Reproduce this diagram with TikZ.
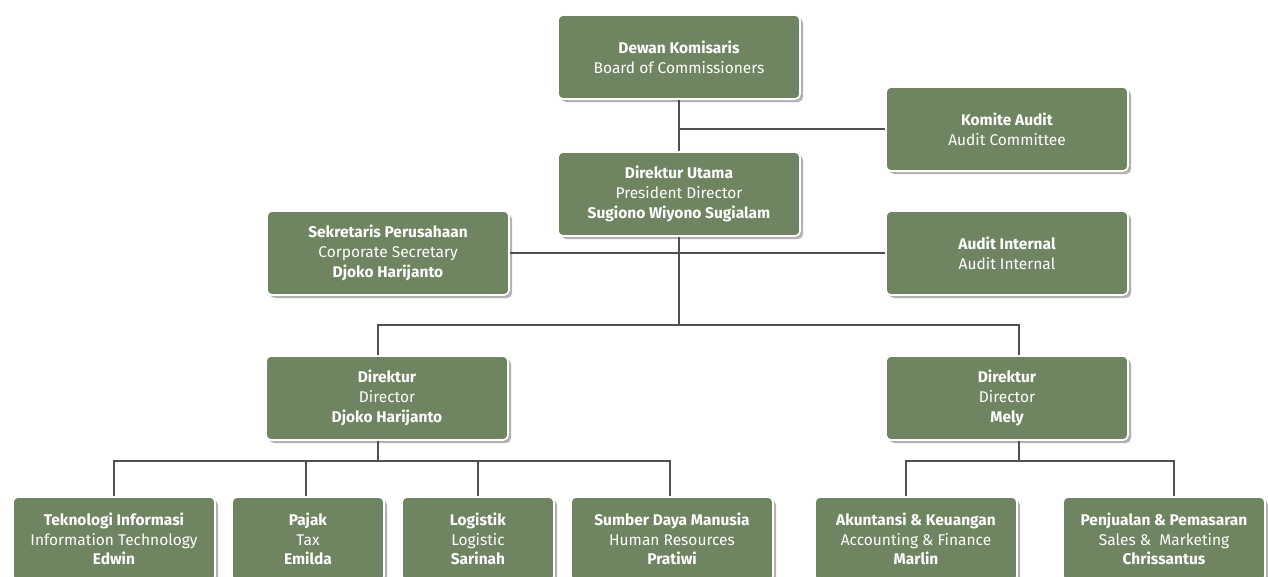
\documentclass[tikz,border=0pt]{standalone}
\usepackage{fontspec}
\setmainfont{Fira Sans}
\usetikzlibrary{shadows}
\definecolor{boxgreen}{HTML}{6F8460}
\definecolor{linegrey}{HTML}{4F4F4F}
\def\unit#1#2#3{\textbf{#1}\\#2\\\textbf{#3}}

\begin{document}
\begin{tikzpicture}[x=1pt, y=-1pt,
		orgbox/.style={draw=white, line width=1.6pt, fill=boxgreen, rounded corners=5pt,
			text=white, align=center, inner sep=2pt, minimum height=84pt,
			font=\fontsize{15.5}{19.8}\selectfont,
			drop shadow={shadow xshift=3pt, shadow yshift=-3pt, opacity=0.3, fill=black}},
		wide/.style={orgbox, minimum width=242pt},
		mid/.style={orgbox, minimum width=202pt},
		narrow/.style={orgbox, minimum width=152pt},
		link/.style={draw=linegrey, line width=2.6pt}]
			%%%%% FRAME %%%%%
			\useasboundingbox (0, 0) rectangle (1268, 576);
			
			%%%%% BUS LEVELS %%%%%
			\coordinate (busTop) at (0, 325);
			\coordinate (busLow) at (0, 461);
			
			%%%%% BOXES %%%%%
			\node[wide] (dk) at (679, 57) {\textbf{Dewan Komisaris}\\Board of Commissioners};
			\node[wide] (ka) at (1007, 129) {\textbf{Komite Audit}\\Audit Committee};
			\node[wide] (du) at (679, 194) {\unit{Direktur Utama}{President Director}{Sugiono Wiyono Sugialam}};
			\node[wide] (sp) at (388, 253) {\unit{Sekretaris Perusahaan}{Corporate Secretary}{Djoko Harijanto}};
			\node[wide] (ai) at (1007, 253) {\textbf{Audit Internal}\\Audit Internal};
			\node[wide] (dl) at (387, 398) {\unit{Direktur}{Director}{Djoko Harijanto}};
			\node[wide] (dr) at (1007, 398) {\unit{Direktur}{Director}{Mely}};
			
			\node[mid] (ti) at (114, 539) {\unit{Teknologi Informasi}{Information Technology}{Edwin}};
			\node[narrow] (pj) at (308, 539) {\unit{Pajak}{Tax}{Emilda}};
			\node[narrow] (lg) at (478, 539) {\unit{Logistik}{Logistic}{Sarinah}};
			\node[mid] (sdm) at (672, 539) {\unit{Sumber Daya Manusia}{Human Resources}{Pratiwi}};
			\node[mid] (ak) at (916, 539) {\unit{Akuntansi \& Keuangan}{Accounting \& Finance}{Marlin}};
			\node[mid] (pm) at (1164, 539) {\unit{Penjualan \& Pemasaran}{Sales \&\ \ Marketing}{Chrissantus}};
			
			%%%%% CONNECTORS %%%%%
			\draw[link] (dk.south) -- (du.north);
			\draw[link] (dk.south |- ka.west) -- (ka.west);
			\draw[link] (sp.east) -- (sp.east -| ai.west);
			\draw[link] (du.south) -- (du.south |- busTop);
			\draw[link] ([xshift=-9pt]dl.north) |- ([xshift=12pt]dr.north |- busTop) -- ([xshift=12pt]dr.north);
			
			\draw[link] ([xshift=-9pt]dl.south) -- ([xshift=-9pt]dl.south |- busLow);
			\draw[link] (ti.north) |- ([xshift=-2pt]sdm.north |- busLow) -- ([xshift=-2pt]sdm.north);
			\draw[link] ([xshift=-2pt]pj.north) -- ([xshift=-2pt]pj.north |- busLow);
			\draw[link] (lg.north) -- (lg.north |- busLow);
			
			\draw[link] ([xshift=12pt]dr.south) -- ([xshift=12pt]dr.south |- busLow);
			\draw[link] ([xshift=-10pt]ak.north) |- ([xshift=10pt]pm.north |- busLow) -- ([xshift=10pt]pm.north);
\end{tikzpicture}
\end{document}
